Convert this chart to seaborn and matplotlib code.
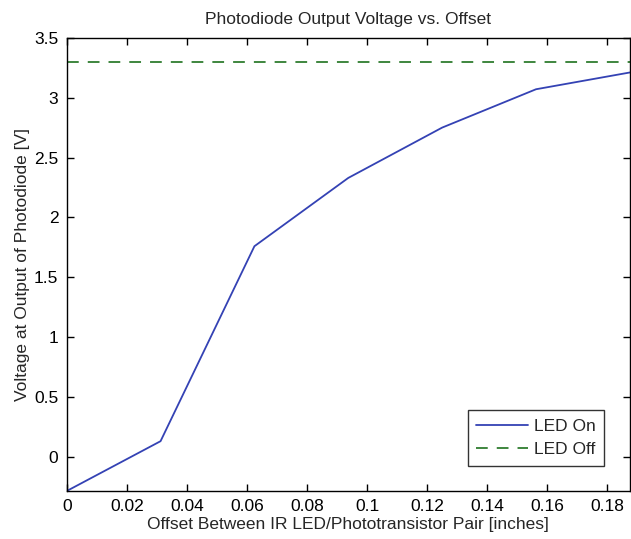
import matplotlib
matplotlib.use("Agg")
import matplotlib.pyplot as plt
import seaborn as sns
import pandas as pd

offsets = [0.0, 0.03125, 0.0625, 0.09375, 0.125, 0.15625, 0.1875]
led_on = [-0.283, 0.133, 1.76, 2.33, 2.75, 3.07, 3.21]
led_off = [3.30, 3.30, 3.30, 3.30, 3.30, 3.30, 3.30]
x_ticks = [0, 0.02, 0.04, 0.06, 0.08, 0.1, 0.12, 0.14, 0.16, 0.18]
x_tick_labels = ["0", "0.02", "0.04", "0.06", "0.08", "0.1", "0.12", "0.14", "0.16", "0.18"]
y_ticks = [0, 0.5, 1, 1.5, 2, 2.5, 3, 3.5]
y_tick_labels = ["0", "0.5", "1", "1.5", "2", "2.5", "3", "3.5"]

sns.set_theme(style="ticks")
plt.rcParams["font.family"] = ["Liberation Sans", "DejaVu Sans"]

df_on = pd.DataFrame({"x": offsets, "y": led_on})
df_off = pd.DataFrame({"x": offsets, "y": led_off})

fig = plt.figure(figsize=(6.31, 5.39), dpi=100)
ax = fig.add_axes([0.1057, 0.089, 0.8925, 0.841])

sns.lineplot(data=df_on, x="x", y="y", ax=ax, color="#3442b4", linewidth=1.3,
             label="LED On")
sns.lineplot(data=df_off, x="x", y="y", ax=ax, color="#2f7d2f", linewidth=1.3,
             linestyle=(0, (6.5, 5)), label="LED Off")

ax.set_xlim(0, 0.1875)
ax.set_ylim(-0.283, 3.5)
ax.set_xticks(x_ticks)
ax.set_xticklabels(x_tick_labels)
ax.set_yticks(y_ticks)
ax.set_yticklabels(y_tick_labels)
ax.tick_params(direction="in", length=5, width=1, top=True, right=True,
               labelsize=12.5, colors="black", pad=6)
for s in ax.spines.values():
    s.set_visible(True)
    s.set_color("black")
    s.set_linewidth(1.0)

ax.set_title("Photodiode Output Voltage vs. Offset", fontsize=12.5, pad=10)
ax.set_xlabel("Offset Between IR LED/Phototransistor Pair [inches]", fontsize=12.5, labelpad=2)
ax.set_ylabel("Voltage at Output of Photodiode [V]", fontsize=12.5, labelpad=3)

leg = ax.legend(loc="lower right", bbox_to_anchor=(0.954, 0.055), fontsize=12.5,
                frameon=True, fancybox=False, handlelength=3.0, handletextpad=0.3,
                borderpad=0.5, labelspacing=0.5, borderaxespad=0)
leg.get_frame().set_edgecolor("black")
leg.get_frame().set_linewidth(1.0)

fig.savefig("out.png", dpi=100, facecolor="white")
